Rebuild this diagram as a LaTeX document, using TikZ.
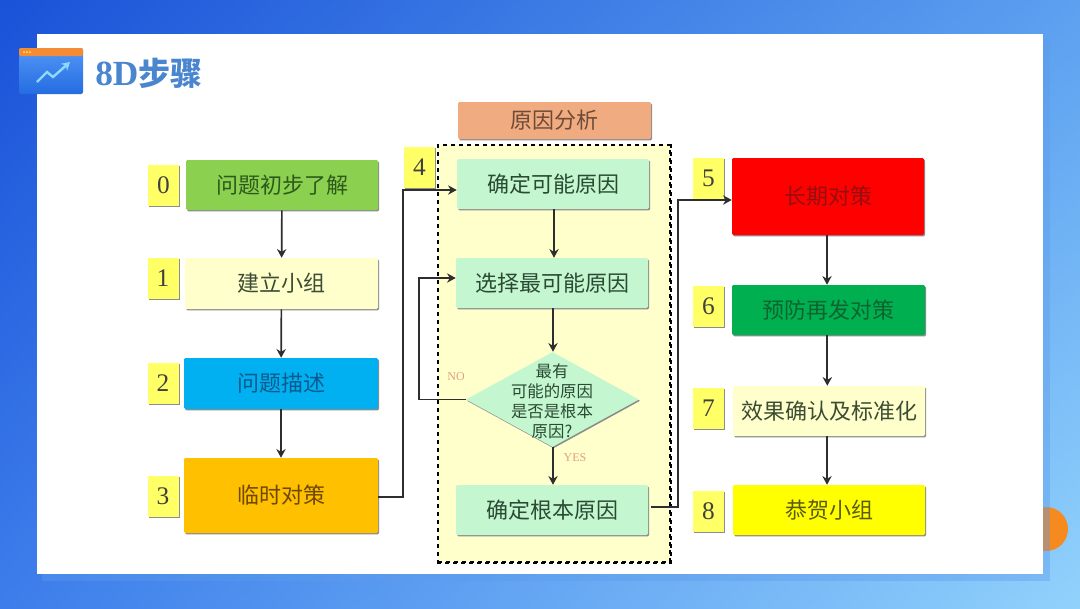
\documentclass[tikz,border=0pt]{standalone}
\usepackage{fontspec}
\setmainfont{Liberation Serif}
\newfontfamily\cjk{Noto Sans CJK SC}
\usetikzlibrary{shapes.geometric,shadows,shadings,arrows.meta,calc}
\definecolor{inkc}{HTML}{2A4A34}
\definecolor{mint}{HTML}{C4F7CF}
\definecolor{pale}{HTML}{FFFFCC}
\definecolor{notec}{HTML}{FFFF66}
\definecolor{wirec}{HTML}{2E2E2E}
\definecolor{redlab}{HTML}{E2A07C}
\definecolor{bgll}{HTML}{3C7DEB}
\definecolor{bgul}{HTML}{1A52D8}
\definecolor{bgur}{HTML}{5CA0F0}
\definecolor{bglr}{HTML}{91D2FC}
\definecolor{cardedge}{HTML}{5E9BEA}
\definecolor{orb}{HTML}{F58A1E}
\definecolor{icontop}{HTML}{F58C35}
\definecolor{iconhi}{HTML}{5296F5}
\definecolor{iconlo}{HTML}{246CE2}
\definecolor{titlec}{HTML}{4A86D0}
\definecolor{leaf}{HTML}{8CD050}
\definecolor{skyc}{HTML}{00B0F0}
\definecolor{amber}{HTML}{FFC000}
\definecolor{salmon}{HTML}{F0AC80}
\definecolor{grass}{HTML}{00B050}
\definecolor{fullred}{HTML}{FF0000}
\definecolor{fullyel}{HTML}{FFFF00}
\definecolor{inkleaf}{HTML}{2C5A1C}
\definecolor{inkpale}{HTML}{3C4C34}
\definecolor{inksky}{HTML}{0C5A8C}
\definecolor{inkamber}{HTML}{6E4800}
\definecolor{inksalmon}{HTML}{6E4A38}
\definecolor{inkred}{HTML}{941010}
\definecolor{inkgrass}{HTML}{0C6430}
\definecolor{inkyel}{HTML}{5A5A10}
\tikzset{
  x=0.75pt,y=-0.75pt,
  sized/.style 2 args={minimum width=#1*0.75pt,minimum height=#2*0.75pt},
  softshadow/.style={general shadow={shadow xshift=0.8pt,shadow yshift=-1pt,fill=black!45}},
  flowbox/.style={rectangle,rounded corners=1pt,inner sep=0pt,text=inkc,font=\cjk\fontsize{16.5}{20}\selectfont,softshadow,fill=#1},
  numtag/.style={rectangle,inner sep=0pt,fill=notec,softshadow,text=black!75,font=\fontsize{19}{20}\selectfont,sized={31}{41}},
  wire/.style={draw=wirec,line width=1.25pt,-{Stealth[length=6.5pt,width=7pt]}},
  branch/.style={text=redlab,font=\fontsize{9}{10}\selectfont,inner sep=0pt},
}
\begin{document}
\begin{tikzpicture}
\useasboundingbox (0,0) rectangle (1080,608);
\shade[lower left=bgll,upper left=bgul,upper right=bgur,lower right=bglr] (0,0) rectangle (1080,608);
% ornament and card
\fill[orb] (1046,529) circle (22);
\fill[cardedge,opacity=.4] (42,39) rectangle (1050,581);
\fill[white] (37,34) rectangle (1043,574);
% title icon
\shade[top color=iconhi,bottom color=iconlo,rounded corners=1.5pt] (19,48) rectangle (83,94);
\fill[icontop,rounded corners=1.5pt] (19,48) rectangle (83,56);
\foreach \dx in {24,27,30}{\fill[yellow!70!white] (\dx,52) circle (1);}
\draw[cyan!45!white,line width=1.8pt,-{Stealth[length=6pt,width=7pt]}] (37,82) -- (47,72) -- (53,77) -- (70,62);
\node[anchor=west,inner sep=0pt,text=titlec,font=\fontsize{26.5}{28}\selectfont\bfseries] (title) at (95,73) {8D{\cjk\fontsize{24}{28}\selectfont\bfseries 步骤}};
% left column
\node[flowbox=leaf,text=inkleaf,sized={192}{50}] (s0) at (282,185) {问题初步了解};
\node[flowbox=pale,text=inkpale,sized={193}{51}] (s1) at (281.5,283.5) {建立小组};
\node[flowbox=skyc,text=inksky,sized={194}{51}] (s2) at (281,383.5) {问题描述};
\node[flowbox=amber,text=inkamber,sized={194}{75}] (s3) at (281,495.5) {临时对策};
\node[numtag] (n0) at (163.5,185.5) {0};
\node[numtag] (n1) at (163,278.5) {1};
\node[numtag] (n2) at (163,383.5) {2};
\node[numtag] (n3) at (163,496.5) {3};
% analysis group
\node[flowbox=salmon,text=inksalmon,sized={193}{37}] (head) at (554.5,120.5) {原因分析};
\node[rectangle,fill=pale,draw=black,dashed,line width=1pt,inner sep=0pt,sized={232}{417}] (frame) at (554,353.5) {};
\draw[black,dashed,line width=1.7pt] (frame.north east) -- (frame.south east) -- (frame.south west);
\node[numtag] (n4) at (419.5,167) {4};
\node[flowbox=mint,sized={192}{50}] (a1) at (553,184) {确定可能原因};
\node[flowbox=mint,sized={192}{50}] (a2) at (552,283) {选择最可能原因};
\node[diamond,fill=mint,softshadow,inner sep=0pt,aspect=1.82,sized={173}{95}] (a3) at (552.5,399.5) {};
\node[align=center,inner sep=0pt,text=inkc,font=\cjk\fontsize{12.3}{15}\selectfont] (a3t) at (552,401) {最有\\可能的原因\\是否是根本\\原因?};
\node[flowbox=mint,sized={192}{50}] (a4) at (552,510) {确定根本原因};
\node[branch] (no) at (456,377) {NO};
\node[branch] (yes) at (575,458) {YES};
% right column
\node[flowbox=fullred,text=inkred,sized={192}{77}] (r5) at (828,196.5) {长期对策};
\node[flowbox=grass,text=inkgrass,sized={193}{50}] (r6) at (828.5,310) {预防再发对策};
\node[flowbox=pale,text=inkpale,sized={192}{50}] (r7) at (829,411) {效果确认及标准化};
\node[flowbox=fullyel,text=inkyel,sized={192}{50}] (r8) at (829,510) {恭贺小组};
\node[numtag] (n5) at (708.5,178) {5};
\node[numtag] (n6) at (708.5,306) {6};
\node[numtag] (n7) at (708.5,408) {7};
\node[numtag] (n8) at (708.5,511) {8};
% connectors
\draw[wire] (s0) -- (s1);
\draw[wire] (s1) -- (s2);
\draw[wire] (s2) -- (s3);
\draw[wire] (s3.east) ++(0,1.5) -- ++(25,0) |- ($(a1.west)+(0,6)$);
\draw[wire] ($(a1.south)+(1,0)$) -- ($(a2.north)+(2,0)$);
\draw[wire] ($(a2.south)+(1,0)$) -- ($(a3.north)+(0.5,0)$);
\draw[wire] ($(a3.south)+(0.5,0)$) -- ($(a4.north)+(1,0)$);
\draw[wire] (a3.west) -- ++(-47,0) |- ($(a2.west)+(0,-5)$);
\draw[wire] ($(a4.east)+(3,-3)$) -- ++(27,0) |- ($(r5.west)+(0,3.5)$);
\draw[wire] ($(r5.south)+(-1,0)$) -- ($(r6.north)+(-1.5,0)$);
\draw[wire] ($(r6.south)+(-1.2,0)$) -- ($(r7.north)+(-1.7,0)$);
\draw[wire] ($(r7.south)+(-2,0)$) -- ($(r8.north)+(-2,0)$);
\end{tikzpicture}
\end{document}
